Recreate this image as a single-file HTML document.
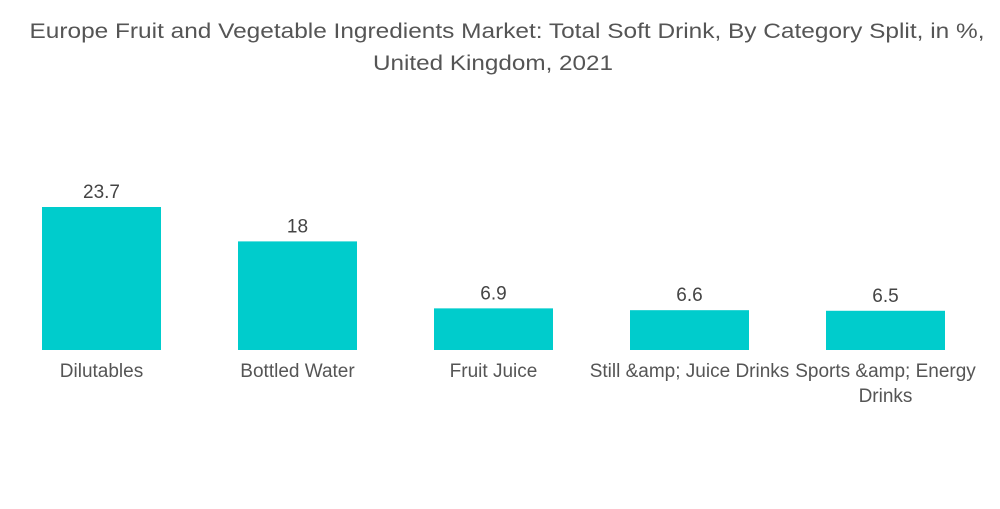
<!DOCTYPE html>
<html><head><meta charset="utf-8"><style>
body{margin:0;background:#fff;width:1000px;height:504px;overflow:hidden;font-family:"Liberation Sans",sans-serif;}
</style></head><body>
<svg width="1000" height="504" xmlns="http://www.w3.org/2000/svg">
<text x="507" y="38" text-anchor="middle" font-size="21" fill="#555" textLength="955" lengthAdjust="spacingAndGlyphs">Europe Fruit and Vegetable Ingredients Market: Total Soft Drink, By Category Split, in %,</text>
<text x="493" y="70" text-anchor="middle" font-size="21" fill="#555" textLength="240" lengthAdjust="spacingAndGlyphs">United Kingdom, 2021</text>
<g id="plot"></g>
</svg>
<script>
const categories=["Dilutables","Bottled Water","Fruit Juice","Still &amp; Juice Drinks","Sports &amp; Energy|Drinks"];
const values=[23.7,18,6.9,6.6,6.5];
const valueLabels=["23.7","18","6.9","6.6","6.5"];
const NS="http://www.w3.org/2000/svg";
const g=document.getElementById('plot');
const baseY=350, pxPerUnit=143/23.7, x0=101.5, step=196, bw=119;
function xPos(i){return x0+i*step;}
function yPos(v){return baseY-v*pxPerUnit;}
categories.forEach((c,i)=>{
  const r=document.createElementNS(NS,'rect');
  
  
  r.setAttribute('x',xPos(i)-bw/2);r.setAttribute('y',yPos(values[i]));
  r.setAttribute('width',bw);r.setAttribute('height',baseY-yPos(values[i]));
  r.setAttribute('fill','#00CCCC');g.appendChild(r);
  const t=document.createElementNS(NS,'text');
  
  
  t.setAttribute('x',xPos(i));t.setAttribute('y',yPos(values[i])-9);
  t.setAttribute('text-anchor','middle');t.setAttribute('font-size','19');t.setAttribute('fill','#444');
  t.textContent=valueLabels[i];g.appendChild(t);
  c.split('|').forEach((line,j)=>{
    const l=document.createElementNS(NS,'text');
    
    
    l.setAttribute('x',xPos(i));l.setAttribute('y',377+j*25);
    l.setAttribute('text-anchor','middle');l.setAttribute('font-size','19');l.setAttribute('fill','#555');
    l.textContent=line;g.appendChild(l);
  });
});
</script>
</body></html>
